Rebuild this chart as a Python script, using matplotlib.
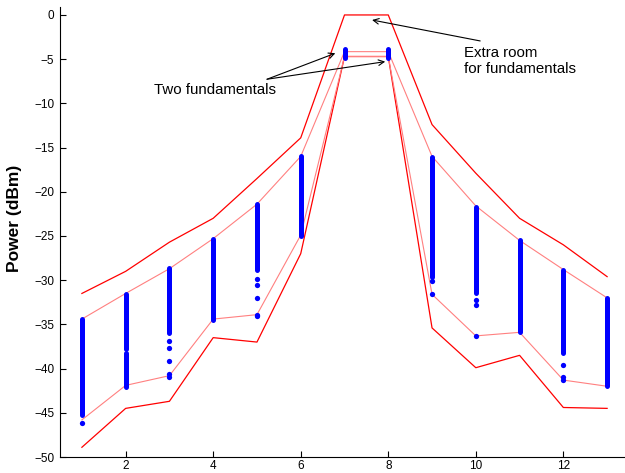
import matplotlib
matplotlib.use("Agg")
import matplotlib.pyplot as plt

plt.rcParams['font.family'] = ['Liberation Sans', 'DejaVu Sans']

# harmonic index
harm = [1, 2, 3, 4, 5, 6, 7, 8, 9, 10, 11, 12, 13]

# mask limits (dBm)
upper_outer = [-31.5, -29.0, -25.7, -23.0, -18.5, -13.9, 0.0, 0.0, -12.4, -17.9, -23.0, -26.0, -29.6]
upper_inner = [-34.4, -31.5, -28.7, -25.3, -21.4, -16.0, -4.15, -4.15, -16.0, -21.6, -25.5, -28.8, -32.0]
lower_inner = [-45.8, -41.9, -40.8, -34.4, -33.9, -24.9, -4.7, -4.7, -31.6, -36.3, -35.9, -41.3, -42.0]
lower_outer = [-48.9, -44.5, -43.7, -36.5, -37.0, -27.0, -4.7, -4.7, -35.4, -39.9, -38.5, -44.4, -44.5]

# dense runs of measured points: (harmonic, top, bottom)
runs = [(1, -34.4, -45.2), (2, -31.6, -37.8), (2, -38.2, -42.1), (3, -28.6, -36.0),
        (4, -25.3, -34.5), (5, -21.4, -28.8), (6, -16.0, -25.0), (7, -3.9, -4.9),
        (8, -3.9, -4.9), (9, -16.1, -29.6), (10, -21.7, -31.5), (11, -25.5, -35.9),
        (12, -28.9, -38.2), (13, -32.0, -42.0)]

# isolated points
pts_x = [1, 3, 3, 3, 3, 3, 5, 5, 5, 5, 5, 9, 9, 10, 10, 10, 12, 12, 12]
pts_y = [-46.1, -36.9, -37.7, -39.1, -40.6, -40.9, -29.9, -30.6, -32.0, -33.9, -34.1,
         -30.1, -31.6, -32.2, -32.8, -36.3, -39.6, -41.0, -41.3]

fig = plt.figure(figsize=(6.25, 4.73), dpi=100)
ax = fig.add_axes([60/625, 16/473, 569/625, 450/473])

ax.plot(harm, upper_outer, color='#ff0000', lw=0.9)
ax.plot(harm, lower_outer, color='#ff0000', lw=0.9)
ax.plot(harm, upper_inner, color='#ff8080', lw=0.8)
ax.plot(harm, lower_inner, color='#ff8080', lw=0.8)

for h, top, bot in runs:
    ax.plot([h, h], [top, bot], color='#0000ff', lw=3.6, solid_capstyle='round')
ax.plot(pts_x, pts_y, 'o', color='#0000ff', ms=3.8, mew=0)

ax.set_xlim(0.5, 13.5)
ax.set_ylim(-50, 0.9)
ax.set_xticks([2, 4, 6, 8, 10, 12])
ax.set_yticks(range(-50, 1, 5))
ax.tick_params(direction='in', length=4, width=0.8, labelsize=8.5)
ax.tick_params(axis='x', pad=2.5)
ax.tick_params(axis='y', pad=4)
for s in ['top', 'right']:
    ax.spines[s].set_visible(False)
for s in ['left', 'bottom']:
    ax.spines[s].set_linewidth(0.8)

fig.text(15/625, 1 - 218/473, 'Power (dBm)', rotation=90, ha='center', va='center',
         fontsize=12.5, fontweight='bold')

arrow = dict(arrowstyle='->', color='black', lw=0.8, shrinkA=0, shrinkB=0)
ax.text(4.05, -8.5, 'Two fundamentals', ha='center', va='center', fontsize=10.8)
ax.annotate('', xy=(6.79, -4.33), xytext=(5.23, -7.27), arrowprops=arrow)
ax.annotate('', xy=(7.93, -5.28), xytext=(5.23, -7.27), arrowprops=arrow)

ax.text(9.72, -5.2, 'Extra room\nfor fundamentals', ha='left', va='center',
        fontsize=10.8, linespacing=1.25)
ax.annotate('', xy=(7.63, -0.57), xytext=(10.10, -2.94), arrowprops=arrow)

fig.savefig('out.png', dpi=100)
